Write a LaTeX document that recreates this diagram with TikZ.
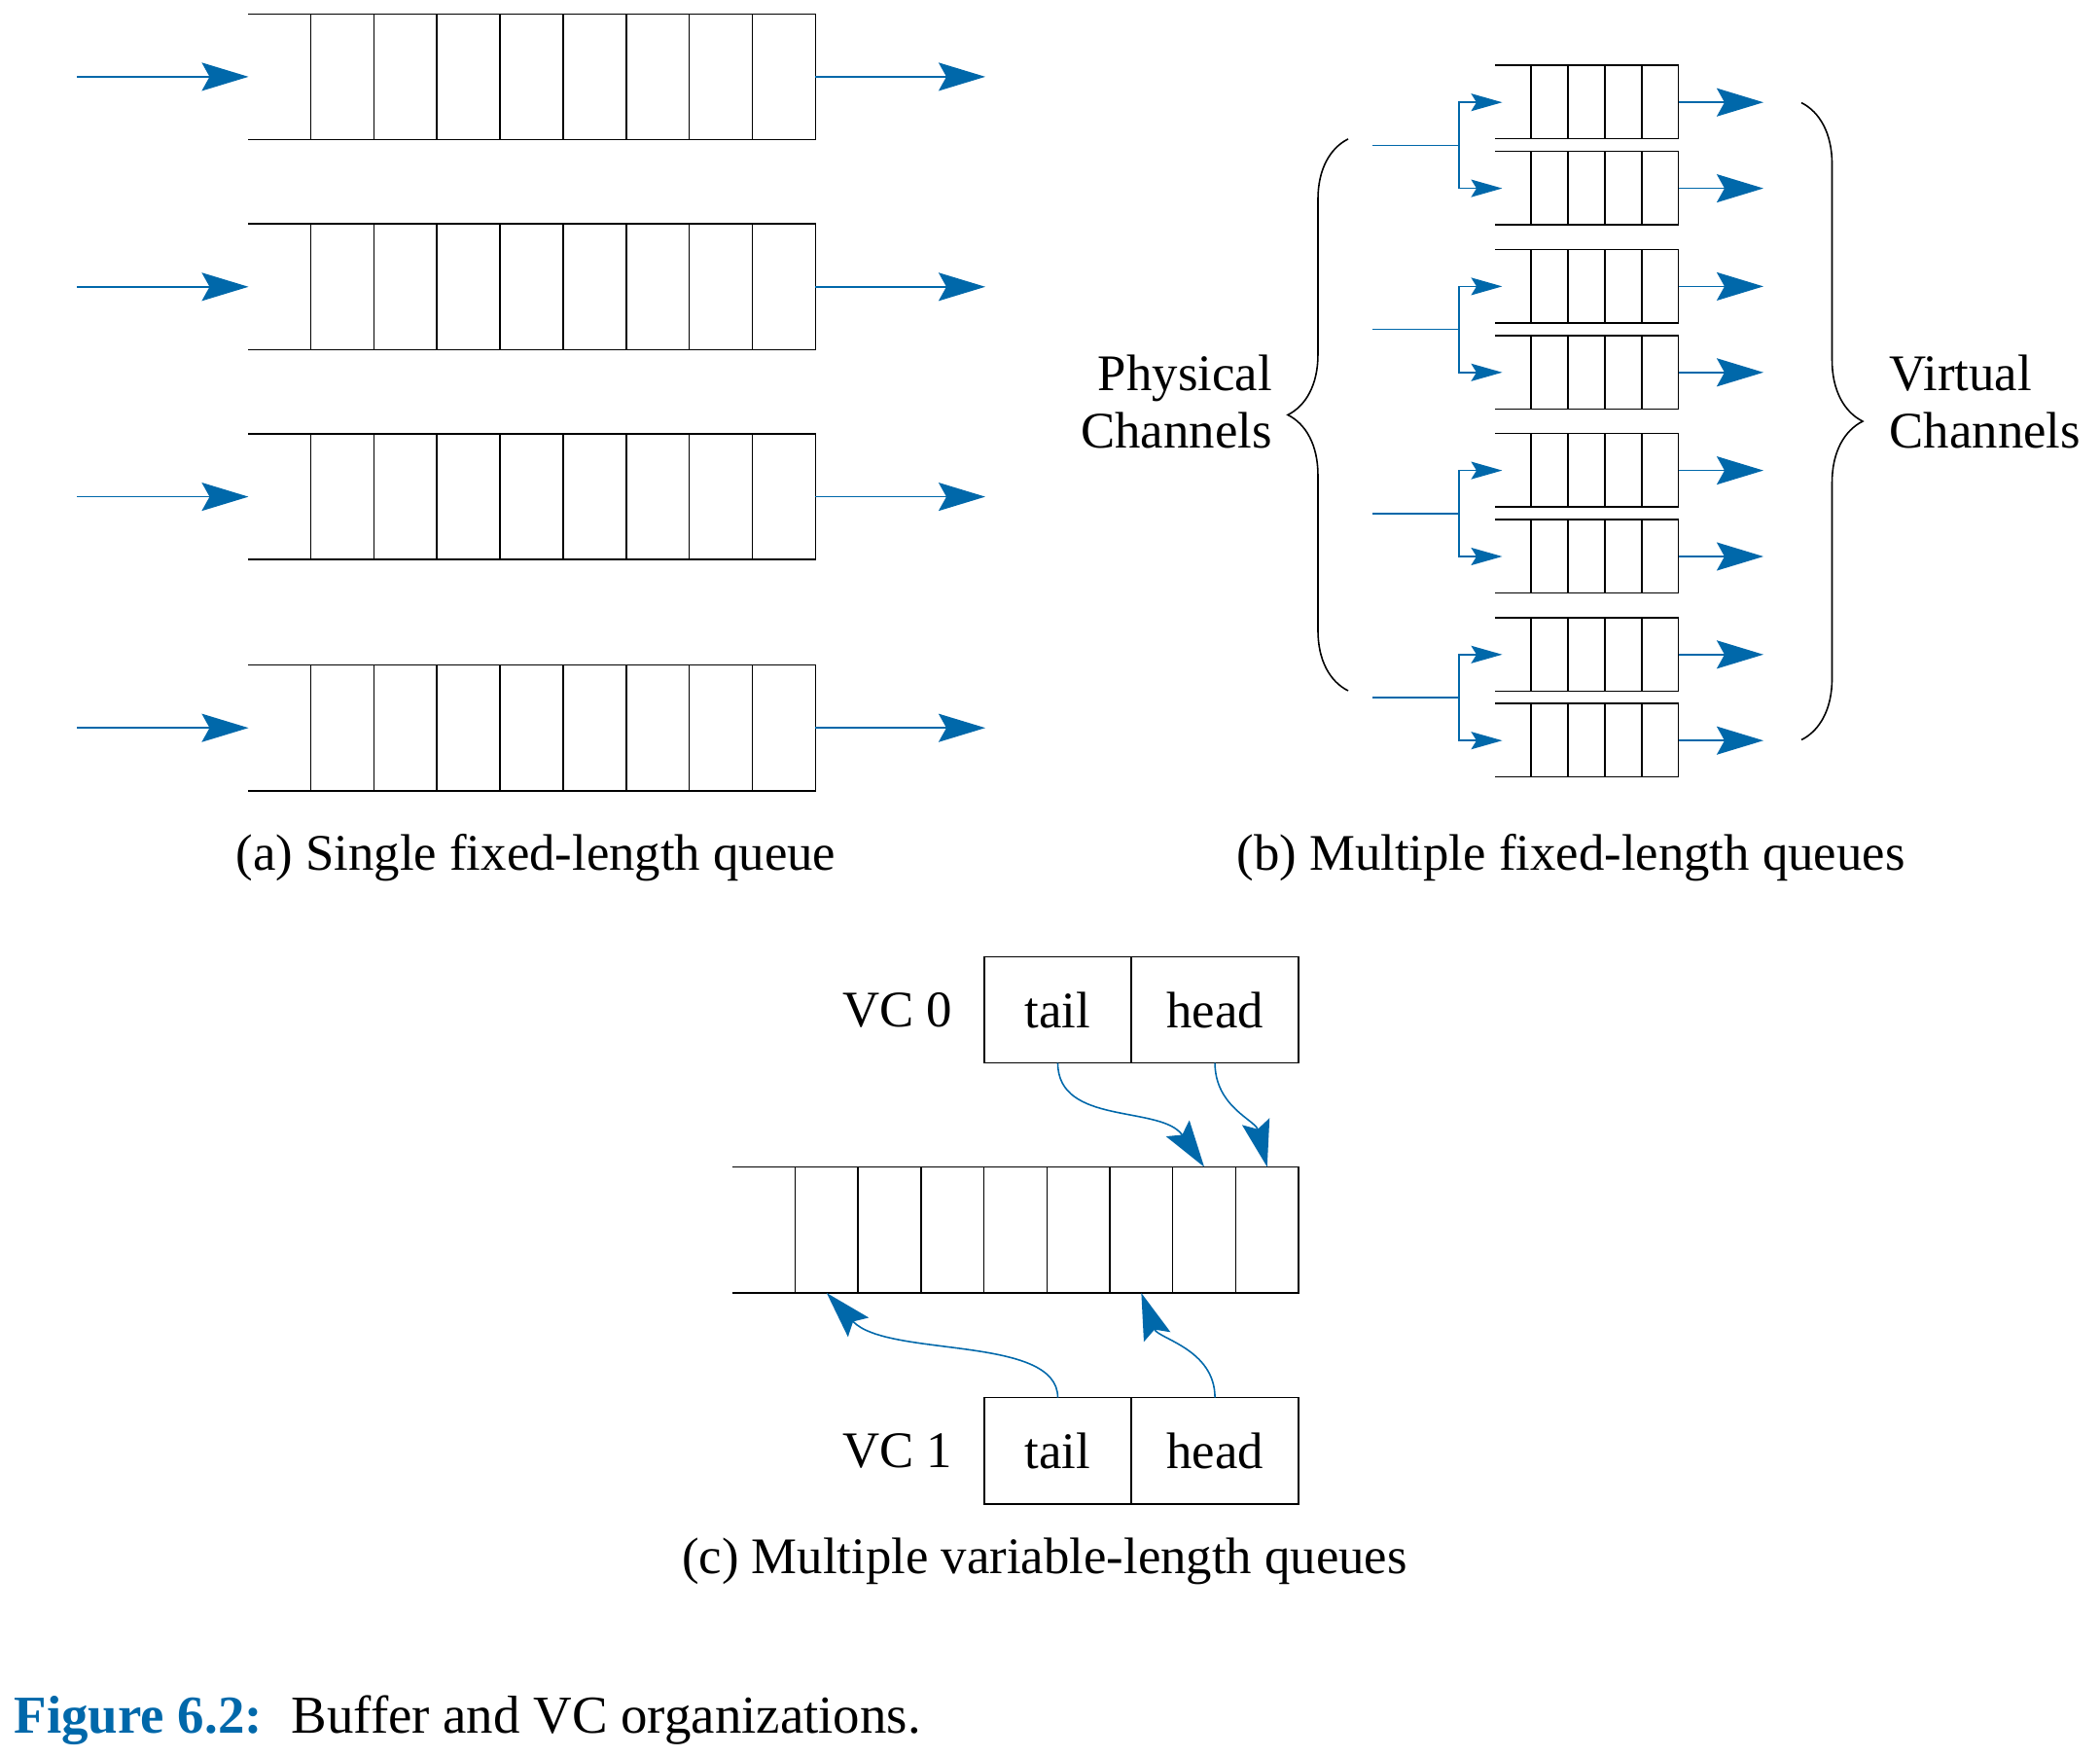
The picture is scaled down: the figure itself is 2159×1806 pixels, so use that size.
\documentclass[tikz,border=0pt]{standalone}
\usepackage{fontspec}
\setmainfont{Liberation Serif}
\usetikzlibrary{arrows.meta,positioning,decorations.pathreplacing}
\definecolor{qblue}{RGB}{0,104,170}
\tikzset{
  flow/.style={qblue,line width=0.45pt,-{Stealth[length=4.8mm,width=2.9mm,inset=0.8mm]}},
  smallflow/.style={qblue,line width=0.45pt,-{Stealth[length=3.2mm,width=1.8mm,inset=0.55mm]}},
  ptr/.style={draw,minimum height=1.09cm,inner sep=0pt,outer sep=0pt},
  lbl/.style={inner sep=0pt},
  curly/.style={decorate,decoration={brace,amplitude=#1}},
}
\begin{document}
\begin{tikzpicture}[x=0.01cm,y=-0.01cm,line width=0.45pt,every node/.style={font=\fontsize{15}{16.8}\selectfont}]
\useasboundingbox (0,0) rectangle (2159,1806);
\begin{scope}
\foreach \r/\t in {1/14.3,2/230.2,3/446,4/683.6}{
  \draw (255,\t) -- (838.3,\t) -- (838.3,\t+129.2) -- (255,\t+129.2);
  \foreach \i in {0,...,7} \draw (319.6+\i*64.84,\t) -- ++(0,129.2);
  \coordinate (ain\r) at (79,\t+64.6);
  \coordinate (aq\r) at (255.5,\t+64.6);
  \coordinate (aout\r) at (838.3,\t+64.6);
  \coordinate (aend\r) at (1013,\t+64.6);
  \draw[flow] (ain\r) -- (aq\r);
  \draw[flow] (aout\r) -- (aend\r);
}
\node[lbl,anchor=base] (capa) at (551,894) {(a) Single fixed-length queue};
\end{scope}
\begin{scope}
\foreach \p/\t in {1/67.2,2/256.4,3/445.6,4/634.8}{
  \foreach \k/\s in {u/0,d/88.4}{
    \draw (1537,\t+\s) -- (1725.5,\t+\s) -- (1725.5,\t+\s+75.5) -- (1537,\t+\s+75.5);
    \foreach \i in {0,...,3} \draw (1574+\i*37.9,\t+\s) -- ++(0,75.5);
    \coordinate (bq\k\p) at (1544.5,\t+\s+38);
    \coordinate (bo\k\p) at (1725.5,\t+\s+38);
    \coordinate (be\k\p) at (1813,\t+\s+38);
    \draw[flow] (bo\k\p) -- (be\k\p);
  }
  \coordinate (bin\p) at (1411,\t+82.2);
  \coordinate (bfork\p) at (1500,\t+82.2);
  \draw[qblue] (bin\p) -- (bfork\p);
  \draw[smallflow] (bfork\p) |- (bqu\p);
  \draw[smallflow] (bfork\p) |- (bqd\p);
}
\coordinate (pctop) at (1386,142.9);
\coordinate (pcbot) at (1386,710);
\coordinate (vctop) at (1852,105.6);
\coordinate (vcbot) at (1852,760.5);
\draw[curly=6.2mm] (pcbot) -- (pctop);
\draw[curly=6.3mm] (vctop) -- (vcbot);
\node[lbl,align=right,anchor=east] (phys) at (1308.5,413) {Physical\\Channels};
\node[lbl,align=left,anchor=west] (virt) at (1942,413) {Virtual\\Channels};
\node[lbl,anchor=base] (capb) at (1615,894) {(b) Multiple fixed-length queues};
\end{scope}
\begin{scope}
\node[ptr,minimum width=1.51cm] (tail0) at (1087.5,1038) {tail};
\node[ptr,minimum width=1.72cm,right=0pt of tail0] (head0) {head};
\node[lbl,left=3.2mm of tail0] (vc0) {VC 0};
\node[ptr,minimum width=1.51cm] (tail1) at (1087.5,1491.2) {tail};
\node[ptr,minimum width=1.72cm,right=0pt of tail1] (head1) {head};
\node[lbl,left=3.2mm of tail1] (vc1) {VC 1};
\draw (752.7,1199.5) -- (1335,1199.5) -- (1335,1329) -- (752.7,1329);
\foreach \i in {0,...,7} \draw (817.5+\i*64.7,1199.5) -- ++(0,129.5);
\foreach \j in {1,...,8}{
  \coordinate (ct\j) at (785.15+\j*64.7,1199.5);
  \coordinate (cb\j) at (785.15+\j*64.7,1329);
}
\draw[flow] (tail0.south) .. controls +(0,65) and +(-44,-64) .. (ct7);
\draw[flow] (head0.south) .. controls +(0,45) and +(-12,-48) .. (ct8);
\draw[flow] (tail1.north) .. controls +(0,-65) and +(62,67) .. (cb1);
\draw[flow] (head1.north) .. controls +(0,-50) and +(17,47) .. (cb6);
\node[lbl,anchor=base] (capc) at (1074,1617) {(c) Multiple variable-length queues};
\end{scope}
\node[lbl,anchor=base west,font=\fontsize{15.6}{16.8}\selectfont] (fig) at (14,1781) {\textcolor{qblue}{\textbf{Figure 6.2:}}\hspace{3mm}Buffer and VC organizations.};
\end{tikzpicture}
\end{document}
